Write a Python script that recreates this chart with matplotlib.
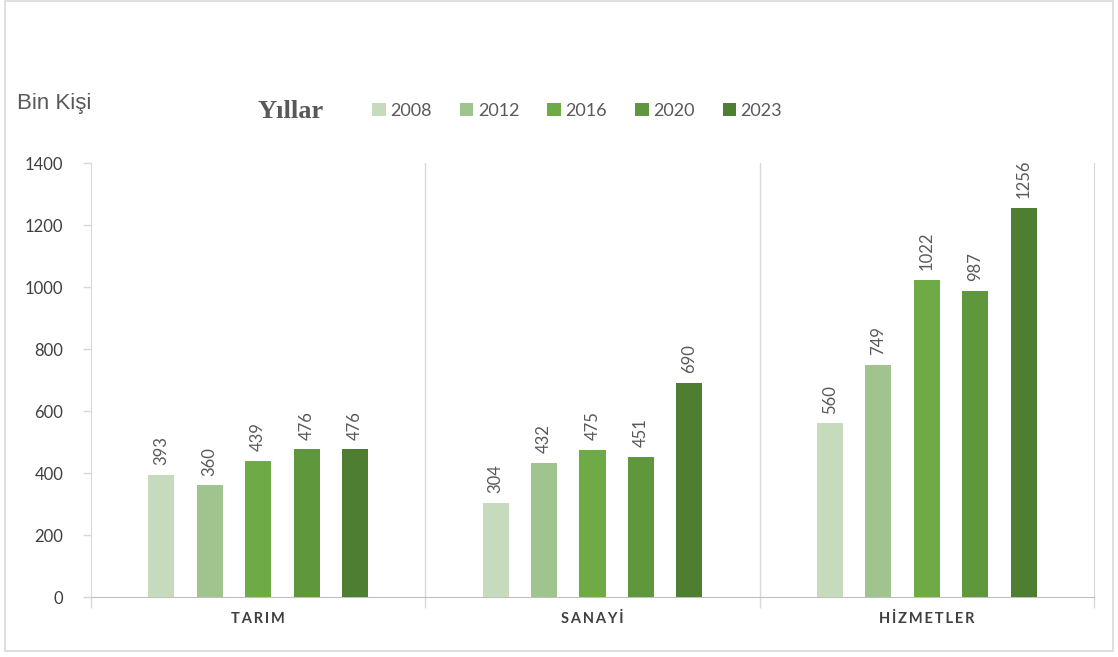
import matplotlib
matplotlib.use("Agg")
import matplotlib.pyplot as plt
import matplotlib.patches as mpatches
import numpy as np

categories = ["TARIM", "SANAYİ", "HİZMETLER"]
years = ["2008", "2012", "2016", "2020", "2023"]
values = {
    "2008": [393, 304, 560],
    "2012": [360, 432, 749],
    "2016": [439, 475, 1022],
    "2020": [476, 451, 987],
    "2023": [476, 690, 1256],
}
colors = ["#c5dbbb", "#a0c48e", "#6eab46", "#5f973d", "#4e7e32"]
yticks = [0, 200, 400, 600, 800, 1000, 1200, 1400]

txt = "#595959"
grid = "#d9d9d9"
font = "Lato"

fig = plt.figure(figsize=(11.18, 6.57), dpi=100)
ax = fig.add_axes([91/1118, 1-597/657, (1094-91)/1118, (597-163)/657])

x = np.arange(len(categories))
step = 0.145
width = 0.078
handles = []
for i, yr in enumerate(years):
    pos = x + (i-2)*step
    b = ax.bar(pos, values[yr], width=width, color=colors[i], label=yr, zorder=3)
    handles.append(b)
    for p, v in zip(pos, values[yr]):
        ax.annotate(str(v), (p, v), xytext=(0, 7), textcoords="offset points",
                    rotation=90, ha="center", va="bottom", fontsize=12,
                    color=txt, family=font)

ax.set_xlim(-0.5, 2.5)
ax.set_ylim(0, 1400)
ax.set_yticks(yticks)
ax.set_yticklabels([str(t) for t in yticks], fontsize=12, color="#404040", family=font)
ax.tick_params(axis="y", length=6, color=grid, width=1, pad=14)
ax.set_xticks([-0.5, 0.5, 1.5, 2.5])
ax.set_xticklabels([])
ax.tick_params(axis="x", length=8, color=grid, width=1)
ax.spines["top"].set_visible(False)
for s in ["left", "right", "bottom"]:
    ax.spines[s].set_color(grid)
ax.spines["bottom"].set_color("#bfbfbf")
for b in [0.5, 1.5]:
    ax.axvline(b, color=grid, lw=1, zorder=1)

for xi, c in zip(x, categories):
    ax.text(xi, -70, "\u2009".join(c), ha="center", va="center", fontsize=10.5,
            color="#404040", family=font, fontweight="bold", transform=ax.transData)

fig.text(17/1118, 1-103/657, "Bin Kişi", fontsize=16, color=txt,
         family="Liberation Sans", va="center", ha="left")
fig.text(258/1118, 1-112/657, "Yıllar", fontsize=19, color=txt,
         family="Liberation Serif", fontweight="bold", va="center", ha="left")
leg = fig.legend(handles=handles, labels=years, ncol=5, frameon=False,
                 loc="center left", bbox_to_anchor=(356/1118, 1-111/657),
                 handlelength=0.75, handleheight=0.75, handletextpad=0.25,
                 columnspacing=1.55, prop={"family": font, "size": 13})
for t in leg.get_texts():
    t.set_color(txt)

fig.patches.append(mpatches.Rectangle((5/1118, 6/657), 1108/1118, 650/657,
                                      transform=fig.transFigure, fill=False,
                                      edgecolor=grid, lw=1.2))

fig.savefig("out.png", dpi=100)
